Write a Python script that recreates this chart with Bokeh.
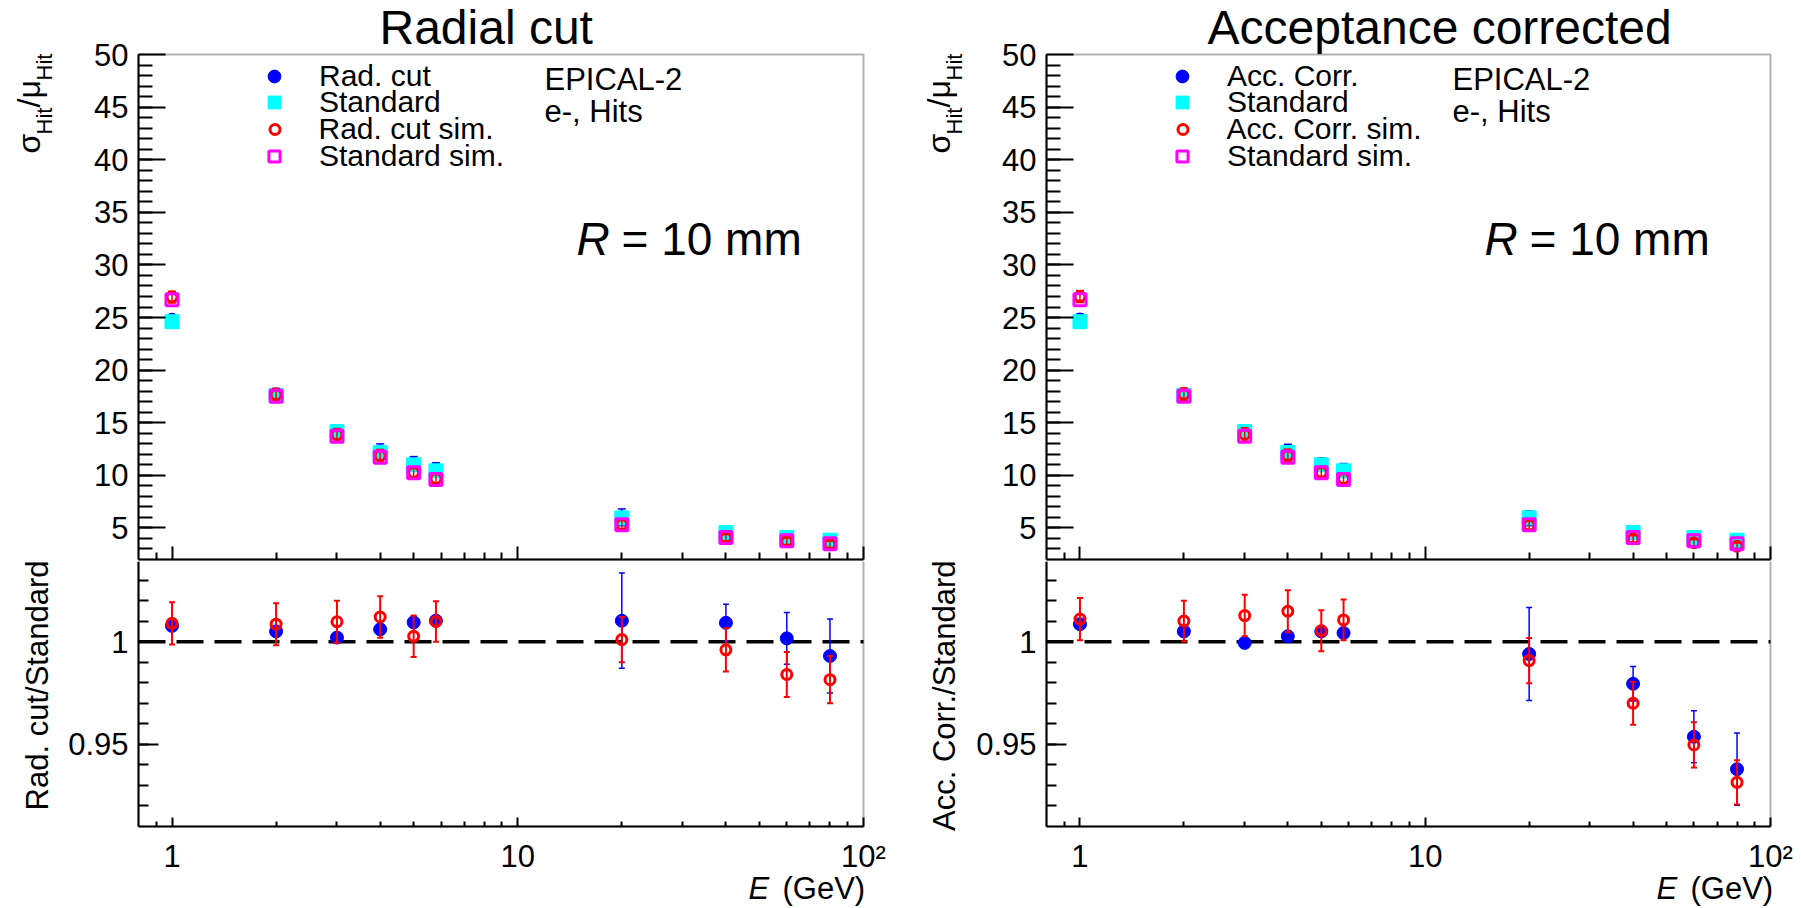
import math
from bokeh.plotting import figure
from bokeh.models import Range1d, FixedTicker, Label, Legend, LegendItem, BoxAnnotation
from bokeh.layouts import row, column
from bokeh.embed import file_html
from bokeh.resources import INLINE

# ---------------- data ----------------
energies = [1, 2, 3, 4, 5, 5.8, 20, 40, 60, 80]

standard = [24.6, 17.6, 14.16, 12.17, 11.0, 10.43, 5.95, 4.56, 4.09, 3.83]
standard_sim = [26.7, 17.52, 13.72, 11.72, 10.24, 9.6, 5.31, 4.09, 3.78, 3.5]

rad_cut = [24.79, 17.69, 14.19, 12.24, 11.10, 10.54, 6.01, 4.60, 4.10, 3.80]
rad_cut_err = [0.47, 0.55, 0.6, 0.75, 0.68, 0.65, 0.8, 0.5, 0.45, 0.4]
rad_cut_sim = [26.94, 17.67, 13.85, 11.86, 10.27, 9.69, 5.32, 4.07, 3.72, 3.44]
rad_cut_sim_err = [0.55, 0.6, 0.6, 0.6, 0.55, 0.55, 0.4, 0.3, 0.3, 0.3]

acc_corr = [24.81, 17.69, 14.15, 12.20, 11.06, 10.47, 5.91, 4.47, 3.90, 3.59]
acc_corr_err = [0.5, 0.55, 0.6, 0.75, 0.6, 0.65, 0.7, 0.5, 0.45, 0.4]
acc_corr_sim = [26.99, 17.70, 13.89, 11.89, 10.29, 9.70, 5.26, 3.97, 3.59, 3.26]
acc_corr_sim_err = [0.57, 0.6, 0.63, 0.6, 0.55, 0.55, 0.4, 0.3, 0.3, 0.3]

ratio_rad = [1.0077, 1.005, 1.002, 1.006, 1.0094, 1.0102, 1.0102, 1.0092, 1.0016, 0.993]
ratio_rad_err = [0.002, 0.002, 0.002, 0.002, 0.002, 0.002, 0.0232, 0.009, 0.0126, 0.018]
ratio_rad_sim = [1.0089, 1.0085, 1.0097, 1.012, 1.0026, 1.0098, 1.001, 0.996, 0.984, 0.9815]
ratio_rad_sim_err = [0.0103, 0.0102, 0.0102, 0.0101, 0.0101, 0.0099, 0.011, 0.0105, 0.011, 0.0115]

ratio_acc = [1.0085, 1.005, 0.9994, 1.0026, 1.005, 1.0042, 0.994, 0.9795, 0.9537, 0.9379]
ratio_acc_err = [0.002, 0.002, 0.002, 0.002, 0.002, 0.002, 0.0226, 0.0084, 0.0126, 0.0176]
ratio_acc_sim = [1.011, 1.010, 1.0127, 1.0148, 1.0053, 1.0106, 0.9908, 0.970, 0.9497, 0.9315]
ratio_acc_sim_err = [0.0103, 0.0099, 0.0101, 0.0102, 0.010, 0.0099, 0.011, 0.0105, 0.011, 0.0108]

# axis limits and ticks
X_LO, X_HI = 0.8, 100
Y_UP = (2, 50)
Y_LO = (0.91, 1.04)
REF_LINE = 1.0
x_major = [1, 10, 100]
x_minor = [0.9, 2, 3, 4, 5, 6, 7, 8, 9, 20, 30, 40, 50, 60, 70, 80, 90]
x_labels = {1: "1", 10: "10", 100: "10\u00b2"}
y_up_major = [5, 10, 15, 20, 25, 30, 35, 40, 45, 50]
y_up_minor = list(range(3, 50))
y_lo_major = [0.95, 1.0]
y_lo_minor = [0.92, 0.93, 0.94, 0.95, 0.96, 0.97, 0.98, 0.99, 1.0, 1.01, 1.02, 1.03]
y_lo_labels = {0.95: "0.95", 1: "1"}

FONT = "Liberation Sans"
BLUE, CYAN, RED, MAGENTA = "#0000ff", "#00ffff", "#ff0000", "#ff00ff"

# ---------------- layout geometry (page px) ----------------
PAGE_H = 908
UP_TOP, DIVIDER, LO_BOTTOM = 54, 559, 826
UP_CANVAS_H = DIVIDER + 2
LO_CANVAS_H = PAGE_H - UP_CANVAS_H


def x_range_for(cx0, cw, fl, fr):
    ppd = (fr - fl) / math.log10(X_HI / X_LO)
    lo = 10 ** (math.log10(X_LO) - (fl - cx0) / ppd)
    hi = 10 ** (math.log10(X_HI) + (cx0 + cw - fr) / ppd)
    return lo, hi


def y_range_for(cy0, ch, ft, fb, vlo, vhi):
    ppu = (fb - ft) / (vhi - vlo)
    return vlo - (cy0 + ch - fb) / ppu, vhi + (ft - cy0) / ppu


def style_axis(ax):
    ax.axis_line_color = "black"
    ax.axis_line_width = 2
    ax.major_tick_line_color = "black"
    ax.minor_tick_line_color = "black"
    ax.major_tick_line_width = 2
    ax.minor_tick_line_width = 2
    ax.major_tick_out = 0
    ax.minor_tick_out = 0
    ax.major_label_text_font = FONT
    ax.major_label_text_font_size = "31px"
    ax.major_label_text_color = "black"


def make_fig(cx0, cw, fl, fr, cy0, ch, ft, fb, yl):
    xr = x_range_for(cx0, cw, fl, fr)
    yr = y_range_for(cy0, ch, ft, fb, yl[0], yl[1])
    p = figure(width=cw, height=ch, x_axis_type="log",
               x_range=Range1d(*xr), y_range=Range1d(*yr),
               output_backend="svg", toolbar_location=None,
               min_border_left=0, min_border_right=0,
               min_border_top=0, min_border_bottom=0)
    p.xgrid.visible = False
    p.ygrid.visible = False
    p.outline_line_color = None
    p.background_fill_color = "white"
    p.border_fill_color = "white"
    style_axis(p.xaxis[0])
    style_axis(p.yaxis[0])
    p.xaxis.fixed_location = yl[0]
    p.xaxis.bounds = (X_LO, X_HI)
    p.yaxis.fixed_location = X_LO
    p.yaxis.bounds = yl
    p.xaxis.ticker = FixedTicker(ticks=x_major, minor_ticks=x_minor)
    p.add_layout(BoxAnnotation(left=X_LO, right=X_HI, bottom=yl[0], top=yl[1],
                               fill_alpha=0, line_color="black", line_width=2))
    return p


def errbars(p, x, y, err, color, lw, cap):
    lo = [a - b for a, b in zip(y, err)]
    hi = [a + b for a, b in zip(y, err)]
    p.segment(x0=x, y0=lo, x1=x, y1=hi, line_color=color, line_width=lw)
    p.scatter(x=list(x) + list(x), y=lo + hi, marker="dash", size=cap,
              line_color=color, line_width=lw)


MID = 0.35  # baseline offset (em) of a middle-anchored text


def label(p, cx0, cyb, X, Y, text, size, rotated=False, **kw):
    opts = dict(text_font=FONT, text_font_size=f"{size}px",
                text_baseline="middle", text_color="black")
    opts.update(kw)
    if rotated:
        sx, sy = X - MID * size - cx0, cyb - Y
        opts.update(angle=math.pi / 2, angle_units="rad")
    else:
        sx, sy = X - cx0, cyb - (Y - MID * size)
    p.add_layout(Label(x=sx, y=sy, x_units="screen", y_units="screen",
                       text=text, **opts))


def legend_row(p, cx0, cyb, rend, text, XM, YM, gw):
    gh = 40
    leg = Legend(items=[LegendItem(label=text, renderers=[rend])],
                 location=(XM - gw / 2 - cx0, cyb - (YM + gh / 2)),
                 glyph_width=gw, glyph_height=gh, label_height=gh,
                 label_standoff=int(45 - gw / 2), padding=0, spacing=0, margin=0,
                 border_line_color=None, background_fill_alpha=0,
                 label_text_font=FONT, label_text_font_size="30px",
                 label_text_color="black")
    p.add_layout(leg)


def build_panel(cx0, cw, fl, fr, title, title_x, names, sel, sel_err,
                sel_sim, sel_sim_err, ratio, ratio_err, ratio_sim, ratio_sim_err,
                ratio_title, top_title_x, lo_title_x):
    # ---------- upper pad ----------
    up = make_fig(cx0, cw, fl, fr, 0, UP_CANVAS_H, UP_TOP, DIVIDER, Y_UP)
    up.xaxis.major_tick_in = 13
    up.xaxis.minor_tick_in = 7
    up.xaxis.major_label_text_font_size = "1px"
    up.xaxis.major_label_text_alpha = 0
    up.yaxis.ticker = FixedTicker(ticks=y_up_major, minor_ticks=y_up_minor)
    up.yaxis.major_tick_in = 27
    up.yaxis.minor_tick_in = 14
    up.yaxis.major_label_standoff = 10

    errbars(up, energies, sel, sel_err, BLUE, 1.5, 8)
    r_sel = up.scatter(energies, sel, marker="circle", size=13,
                       fill_color=BLUE, line_color=BLUE)
    r_std = up.scatter(energies, standard, marker="square", size=14,
                       fill_color=CYAN, line_color=CYAN)
    errbars(up, energies, sel_sim, sel_sim_err, RED, 1.5, 8)
    r_sim = up.scatter(energies, sel_sim, marker="circle", size=10,
                       fill_color=None, line_color=RED, line_width=3)
    r_stdsim = up.scatter(energies, standard_sim, marker="square", size=12,
                          fill_color=None, line_color=MAGENTA, line_width=3)

    cyb = UP_CANVAS_H
    XM = fl + 136
    legend_row(up, cx0, cyb, r_sel, names[0], XM, 76, 32)
    legend_row(up, cx0, cyb, r_std, names[1], XM, 102, 32)
    legend_row(up, cx0, cyb, r_sim, names[2], XM, 129, 25)
    legend_row(up, cx0, cyb, r_stdsim, names[3], XM, 156, 28)

    label(up, cx0, cyb, title_x, 44, title, 48)
    label(up, cx0, cyb, fl + 406, 90, "EPICAL-2", 31)
    label(up, cx0, cyb, fl + 406, 122, "e-, Hits", 31)
    label(up, cx0, cyb, fl + 438, 255, "R", 46, text_font_style="italic")
    label(up, cx0, cyb, fl + 483, 255, "= 10 mm", 46)

    # rotated y title: sigma_Hit / mu_Hit
    ystart = 153
    pieces = [("\u03c3", 32, 0, 19), ("Hit", 22, 12, 27), ("/", 32, 0, 9),
              ("\u03bc", 32, 0, 18), ("Hit", 22, 12, 27)]
    for txt, sz, dx, adv in pieces:
        label(up, cx0, cyb, top_title_x + dx, ystart, txt, sz, rotated=True,
              text_align="left")
        ystart -= adv

    # ---------- lower pad ----------
    lo = make_fig(cx0, cw, fl, fr, UP_CANVAS_H, LO_CANVAS_H, DIVIDER, LO_BOTTOM, Y_LO)
    lo.xaxis.major_label_overrides = x_labels
    lo.xaxis.major_tick_in = 9
    lo.xaxis.minor_tick_in = 5
    lo.xaxis.major_label_standoff = 12
    lo.yaxis.ticker = FixedTicker(ticks=y_lo_major, minor_ticks=y_lo_minor)
    lo.yaxis.major_label_overrides = y_lo_labels
    lo.yaxis.major_tick_in = 20
    lo.yaxis.minor_tick_in = 10
    lo.yaxis.major_label_standoff = 10

    lo.segment(x0=[X_LO], y0=[REF_LINE], x1=[X_HI], y1=[REF_LINE],
               line_color="black", line_width=3.5, line_dash="27 11")
    errbars(lo, energies, ratio, ratio_err, BLUE, 1.5, 6)
    lo.scatter(energies, ratio, marker="circle", size=13,
               fill_color=BLUE, line_color=BLUE)
    errbars(lo, energies, ratio_sim, ratio_sim_err, RED, 2, 6)
    lo.scatter(energies, ratio_sim, marker="circle", size=10,
               fill_color=None, line_color=RED, line_width=3)

    cyb2 = PAGE_H
    label(lo, cx0, cyb2, lo_title_x, 560, ratio_title, 31, rotated=True,
          text_align="right")
    label(lo, cx0, cyb2, fl + 610, 899, "E", 31, text_font_style="italic")
    label(lo, cx0, cyb2, fl + 644, 899, "(GeV)", 31)
    return column(up, lo)


left = build_panel(0, 900, 138, 863, "Radial cut", 379,
                   ["Rad. cut", "Standard", "Rad. cut sim.", "Standard sim."],
                   rad_cut, rad_cut_err, rad_cut_sim, rad_cut_sim_err,
                   ratio_rad, ratio_rad_err, ratio_rad_sim, ratio_rad_sim_err,
                   "Rad. cut/Standard", 40, 48)
right = build_panel(900, 901, 1046, 1770, "Acceptance corrected", 1207,
                    ["Acc. Corr.", "Standard", "Acc. Corr. sim.", "Standard sim."],
                    acc_corr, acc_corr_err, acc_corr_sim, acc_corr_sim_err,
                    ratio_acc, ratio_acc_err, ratio_acc_sim, ratio_acc_sim_err,
                    "Acc. Corr./Standard", 950, 955)

layout = row(left, right)
open("out.html", "w").write(file_html(layout, INLINE))
